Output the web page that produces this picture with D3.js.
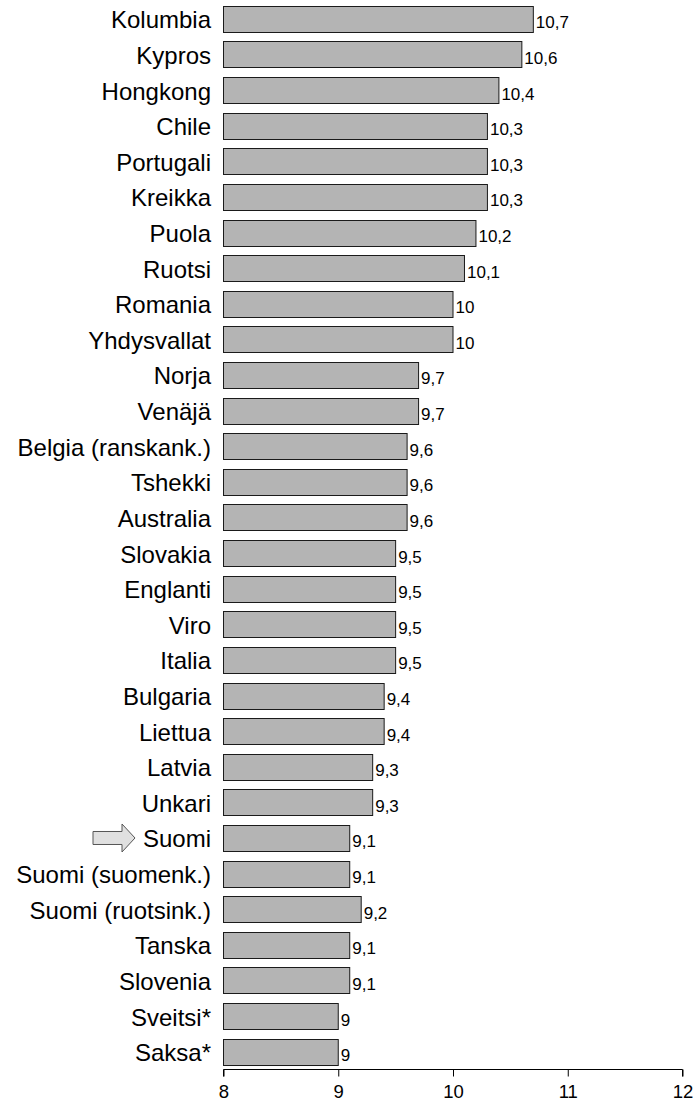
<!DOCTYPE html>
<html>
<head>
<meta charset="utf-8">
<script src="https://cdn.jsdelivr.net/npm/d3@7"></script>
<style>
  html, body { margin: 0; padding: 0; background: #fff; }
  svg { display: block; font-family: "Liberation Sans", Arial, sans-serif; }
</style>
</head>
<body>
<svg id="chart" width="695" height="1104"></svg>
<script>
// Countries, top to bottom
const categories = [
  "Kolumbia", "Kypros", "Hongkong", "Chile", "Portugali", "Kreikka", "Puola",
  "Ruotsi", "Romania", "Yhdysvallat", "Norja", "Venäjä", "Belgia (ranskank.)",
  "Tshekki", "Australia", "Slovakia", "Englanti", "Viro", "Italia", "Bulgaria",
  "Liettua", "Latvia", "Unkari", "Suomi", "Suomi (suomenk.)", "Suomi (ruotsink.)",
  "Tanska", "Slovenia", "Sveitsi*", "Saksa*"
];
const values = [
  10.7, 10.6, 10.4, 10.3, 10.3, 10.3, 10.2,
  10.1, 10, 10, 9.7, 9.7, 9.6,
  9.6, 9.6, 9.5, 9.5, 9.5, 9.5, 9.4,
  9.4, 9.3, 9.3, 9.1, 9.1, 9.2,
  9.1, 9.1, 9, 9
];
const tickValues = [8, 9, 10, 11, 12];
const highlighted = "Suomi";

const data = categories.map((c, i) => ({ name: c, value: values[i] }));

const svg = d3.select("#chart");
const plotLeft = 223, plotRight = 682, plotTop = 1, plotBottom = 1069.5;

const x = d3.scaleLinear().domain([8, 12]).range([plotLeft, plotRight]);
const y = d3.scaleBand().domain(categories).range([plotTop, plotBottom]).paddingInner(0.27).paddingOuter(0.135);

const fmt = v => String(v).replace(".", ",");

// Bars
svg.append("g").selectAll("rect")
  .data(data).join("rect")
  .attr("x", x(8) + 0.5)
  .attr("y", d => Math.round(y(d.name)) + 0.5)
  .attr("width", d => x(d.value) - x(8))
  .attr("height", Math.round(y.bandwidth()))
  .attr("fill", "#b4b4b4")
  .attr("stroke", "#1a1a1a")
  .attr("stroke-width", 1);

// Value labels
svg.append("g").selectAll("text")
  .data(data).join("text")
  .attr("x", d => x(d.value) + 3)
  .attr("y", d => y(d.name) + y.bandwidth() / 2 + 9.5)
  .attr("font-size", 17)
  .attr("fill", "#000")
  .text(d => fmt(d.value));

// Category labels
svg.append("g").selectAll("text")
  .data(data).join("text")
  .attr("x", 211)
  .attr("y", d => y(d.name) + y.bandwidth() / 2 + 9.5)
  .attr("text-anchor", "end")
  .attr("font-size", 24)
  .attr("fill", "#000")
  .text(d => d.name);

// Arrow marking the highlighted row
const ay = y(highlighted) + y.bandwidth() / 2;
const arrowX = 93;
svg.append("path")
  .attr("d", `M${arrowX},${ay - 6.5} L${arrowX + 29},${ay - 6.5} L${arrowX + 29},${ay - 14} L${arrowX + 42},${ay} L${arrowX + 29},${ay + 14} L${arrowX + 29},${ay + 6.5} L${arrowX},${ay + 6.5} Z`)
  .attr("fill", "#e0e0e0")
  .attr("stroke", "#555")
  .attr("stroke-width", 1);

// X axis
const axis = d3.axisBottom(x).tickValues(tickValues).tickSize(7).tickPadding(8).tickFormat(d3.format("d"));
const ax = svg.append("g")
  .attr("transform", `translate(0.5,${plotBottom})`)
  .call(axis);
ax.select(".domain").attr("stroke", "#000").attr("d", `M${plotLeft},7V0H${plotRight}V7`);
ax.selectAll(".tick line").attr("stroke", "#000");
ax.selectAll(".tick text")
  .attr("font-size", 18.5)
  .attr("font-family", "\"Liberation Sans\", Arial, sans-serif")
  .attr("fill", "#000");
</script>
</body>
</html>
